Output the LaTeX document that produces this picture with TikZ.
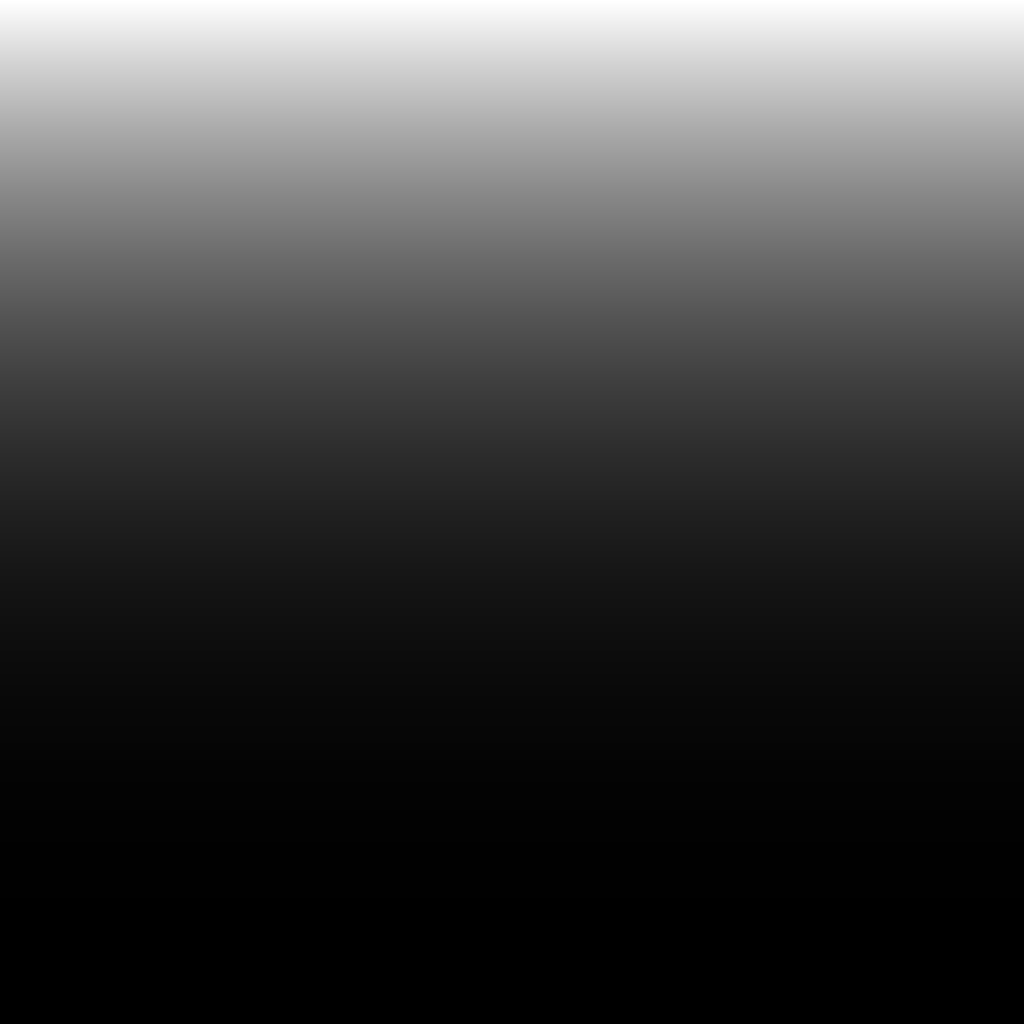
\documentclass[tikz,border=0pt]{standalone}
\usepackage{tikz}
\pgfdeclareverticalshading{skyfall}{100bp}{color(0bp)=(black); color(25bp)=(black);
  color(28.125bp)=(white!0.02!black); color(31.25bp)=(white!0.2!black);
  color(34.375bp)=(white!0.66!black); color(37.5bp)=(white!1.56!black);
  color(40.625bp)=(white!3.05!black); color(43.75bp)=(white!5.27!black);
  color(46.875bp)=(white!8.37!black); color(50bp)=(white!12.5!black);
  color(53.125bp)=(white!17.8!black); color(56.25bp)=(white!24.4!black);
  color(59.375bp)=(white!32.5!black); color(62.5bp)=(white!42.2!black);
  color(65.625bp)=(white!53.6!black); color(68.75bp)=(white!67!black);
  color(71.875bp)=(white!82.4!black); color(75bp)=(white); color(100bp)=(white)}
\tikzset{bg/.style={shading=skyfall,draw=none}}

\begin{document}
\begin{tikzpicture}
  \shade[bg] (0,0) rectangle (10,10);
\end{tikzpicture}
\end{document}
